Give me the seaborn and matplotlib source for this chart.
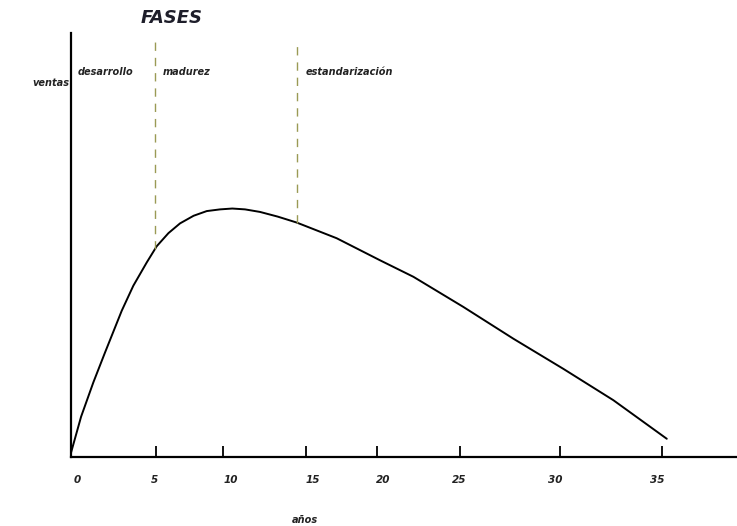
import numpy as np
import pandas as pd
import matplotlib
matplotlib.use("Agg")
import matplotlib.pyplot as plt
import seaborn as sns

# curva de ventas
anios = [0.0, 0.6, 1.33, 2.02, 3.02, 3.71, 4.51, 5.10, 5.8, 6.49, 7.3, 8.08, 8.87,
         9.6, 10.36, 11.25, 12.3, 13.43, 15.81, 18.39, 20.38, 23.35, 26.33,
         29.30, 32.28, 35.46]
ventas = [1.0, 9.5, 17.6, 24.6, 34.5, 40.4, 45.9, 49.7, 52.8, 55.1, 56.9, 58.0, 58.4,
          58.6, 58.4, 57.8, 56.7, 55.3, 51.6, 46.4, 42.5, 35.4, 27.9,
          20.8, 13.4, 4.3]

# fases
fases = ["desarrollo", "madurez", "estandarización"]
fases_x = [0.42, 5.48, 13.99]
limites = [5.0, 13.45]

# ejes (marcas dibujadas a mano, no equiespaciadas)
ticks_marcas = [5.04, 9.07, 13.99, 18.23, 23.15, 29.1, 35.2]
ticks_pos = [0.4, 4.98, 9.52, 14.4, 18.6, 23.1, 28.85, 34.9]
ticks_lab = ["0", "5", "10", "15", "20", "25", "30", "35"]

df = pd.DataFrame({"años": anios, "ventas": ventas})

sns.set_style("white")
fig = plt.figure(figsize=(7.37, 5.26), dpi=100)
ax = fig.add_axes([71 / 737, 69 / 526, 666 / 737, 424 / 526])

sns.lineplot(data=df, x="años", y="ventas", color="black", linewidth=1.4, ax=ax)

# líneas de fase
for xl in limites:
    y0 = np.interp(xl, anios, ventas)
    ax.vlines(xl, y0, 98.3, colors="#9a9a55", linestyles=(0, (6, 5)), linewidth=1.0)

for nombre, xf in zip(fases, fases_x):
    ax.text(xf, 90.8, nombre, fontsize=7, fontstyle="italic", fontweight="bold",
            color="#222222", va="center", ha="left")

ax.set_xlim(0, 39.64)
ax.set_ylim(0, 100)
sns.despine(ax=ax)
for s in ["left", "bottom"]:
    ax.spines[s].set_color("black")
    ax.spines[s].set_linewidth(1.6)

ax.set_xticks(ticks_marcas)
ax.set_xticklabels([])
ax.tick_params(axis="x", which="major", bottom=True, direction="in", length=8,
               width=1.3, color="black")
ax.set_xticks(ticks_pos, minor=True)
ax.set_xticklabels(ticks_lab, minor=True, fontsize=7.5, fontstyle="italic",
                   fontweight="bold", color="#222222")
ax.tick_params(axis="x", which="minor", bottom=True, length=0, pad=13)
ax.set_yticks([])
ax.set_xlabel("")
ax.set_ylabel("")

fig.text(172 / 737, 1 - 18 / 526, "FASES", fontsize=13, fontstyle="italic",
         fontweight="bold", color="#1e1e2a", ha="center", va="center")
fig.text(32 / 737, 1 - 83 / 526, "ventas", fontsize=7, fontstyle="italic",
         fontweight="bold", color="#222222", ha="left", va="center")
fig.text(305 / 737, 1 - 520 / 526, "años", fontsize=7, fontstyle="italic",
         fontweight="bold", color="#222222", ha="center", va="center")

fig.savefig("out.png", dpi=100)
